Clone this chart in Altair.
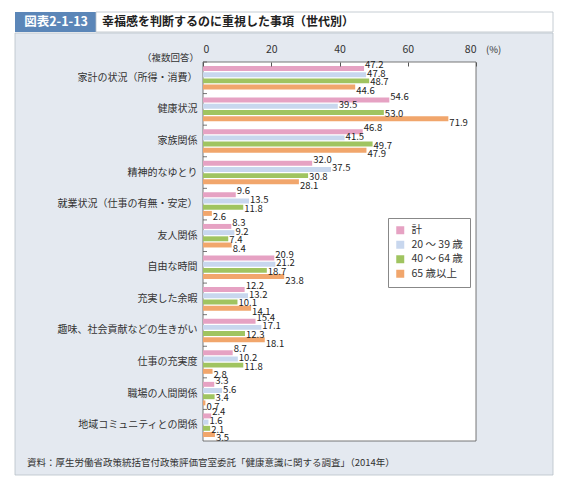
import altair as alt
import pandas as pd

FONT = "Noto Sans CJK JP"

categories = [
    "家計の状況（所得・消費）",
    "健康状況",
    "家族関係",
    "精神的なゆとり",
    "就業状況（仕事の有無・安定）",
    "友人関係",
    "自由な時間",
    "充実した余暇",
    "趣味、社会貢献などの生きがい",
    "仕事の充実度",
    "職場の人間関係",
    "地域コミュニティとの関係",
]
series = ["計", "20 ～ 39 歳", "40 ～ 64 歳", "65 歳以上"]
total = [47.2, 54.6, 46.8, 32.0, 9.6, 8.3, 20.9, 12.2, 15.4, 8.7, 3.3, 2.4]
age20_39 = [47.8, 39.5, 41.5, 37.5, 13.5, 9.2, 21.2, 13.2, 17.1, 10.2, 5.6, 1.6]
age40_64 = [48.7, 53.0, 49.7, 30.8, 11.8, 7.4, 18.7, 10.1, 12.3, 11.8, 3.4, 2.1]
age65 = [44.6, 71.9, 47.9, 28.1, 2.6, 8.4, 23.8, 14.1, 18.1, 2.8, 0.7, 3.5]
colors = ["#e6a2c3", "#c8d7ee", "#a0c460", "#f1a66c"]
x_ticks = [0, 20, 40, 60, 80]

rows = []
for s, vals in zip(series, [total, age20_39, age40_64, age65]):
    for c, v in zip(categories, vals):
        rows.append({"cat": c, "series": s, "value": v})
df = pd.DataFrame(rows)
cat_df = pd.DataFrame({"cat": categories})

W, H = 273, 379
one = alt.Data(values=[{}])


def rect(x, x2, y, y2, fill, stroke=None, sw=0.8):
    kw = dict(fill=fill)
    if stroke:
        kw.update(stroke=stroke, strokeWidth=sw)
    return alt.Chart(one).mark_rect(**kw).encode(
        x=alt.value(x), x2=alt.value(x2), y=alt.value(y), y2=alt.value(y2)
    )


def label(txt, x, y, size=10, weight="normal", color="#333", align="left"):
    return alt.Chart(one).mark_text(
        font=FONT, fontSize=size, fontWeight=weight, color=color, align=align, baseline="middle"
    ).encode(x=alt.value(x), y=alt.value(y), text=alt.value(txt))


panel = rect(-188, 350, -29, 413, "#e4e9f0", "#b8c0c8")
head_blue = rect(-188, -107, -50, -30, "#5b86b8")
head_box = rect(-107, 350, -50, -30, "white", "#b8c0c8")
head_txt = label("図表2-1-13", -147, -40, size=12.5, weight="bold", color="white", align="center")
title_txt = label("幸福感を判断するのに重視した事項（世代別）", -101, -40, size=12, weight="bold", color="#222")
plot_bg = rect(0, W, 0, H, "white", "#555", 0.8)
note = label("（複数回答）", -4, -4, size=9.5, align="right")
pct = label("(%)", 283, -12, size=9.5)
footer = label("資料：厚生労働省政策統括官付政策評価官室委託「健康意識に関する調査」（2014年）", -176, 401, size=9.5)

y_axis = alt.Axis(
    title=None, domain=False, ticks=False, labelPadding=6, labelLimit=300,
    labelFont=FONT, labelFontSize=10, labelColor="#333", zindex=1,
)
x_axis = alt.Axis(
    title=None, orient="top", values=x_ticks, domain=False, grid=False,
    tickSize=4, offset=-4, tickColor="#555", labelPadding=8,
    labelFont=FONT, labelFontSize=10.5, labelColor="#333", zindex=1,
)
y_scale = alt.Scale(paddingInner=0, paddingOuter=0)
x_scale = alt.Scale(domain=[0, 80], nice=False, zero=True)


def y_enc(**kw):
    return alt.Y("cat:N", sort=categories, scale=y_scale, axis=y_axis, **kw)


def x_enc():
    return alt.X("value:Q", scale=x_scale, axis=x_axis)


yoff = alt.YOffset("series:N", sort=series, scale=alt.Scale(paddingInner=0.2, paddingOuter=0.65))

tick_rules = alt.Chart(cat_df).mark_rule(color="#555", strokeWidth=0.8).encode(
    y=y_enc(bandPosition=0),
    x=alt.value(0),
    x2=alt.value(4),
)

bars = alt.Chart(df).mark_bar().encode(
    y=y_enc(),
    x=x_enc(),
    yOffset=yoff,
    color=alt.Color(
        "series:N",
        sort=series,
        scale=alt.Scale(domain=series, range=colors),
        legend=alt.Legend(
            title=None, orient="none", legendX=185, legendY=156, direction="vertical",
            symbolType="square", symbolSize=64, symbolStrokeWidth=0,
            labelFont=FONT, labelFontSize=10.5, labelColor="#333",
            fillColor="white", strokeColor="#888", padding=7, rowPadding=3.5, labelOffset=6,
        ),
    ),
)

text_layers = []
for s, dy in zip(series, [-3.5, -1, 1.5, 4]):
    text_layers.append(
        alt.Chart(df)
        .transform_filter(alt.datum.series == s)
        .mark_text(font=FONT, fontSize=9.5, color="#222", align="left", baseline="middle", dx=1, dy=dy)
        .encode(
            y=y_enc(),
            x=x_enc(),
            yOffset=yoff,
            text=alt.Text("value:Q", format=".1f"),
        )
    )

chart = alt.layer(
    panel, head_blue, head_box, head_txt, title_txt, plot_bg, tick_rules, bars,
    *text_layers, note, pct, footer,
).properties(
    width=W,
    height=H,
    autosize=alt.AutoSizeParams(type="none"),
    padding={"left": 195, "top": 54, "right": 79, "bottom": 37},
    background="white",
).configure_view(stroke=None)

chart.save("out.html", embed_options={"renderer": "svg", "actions": False})
